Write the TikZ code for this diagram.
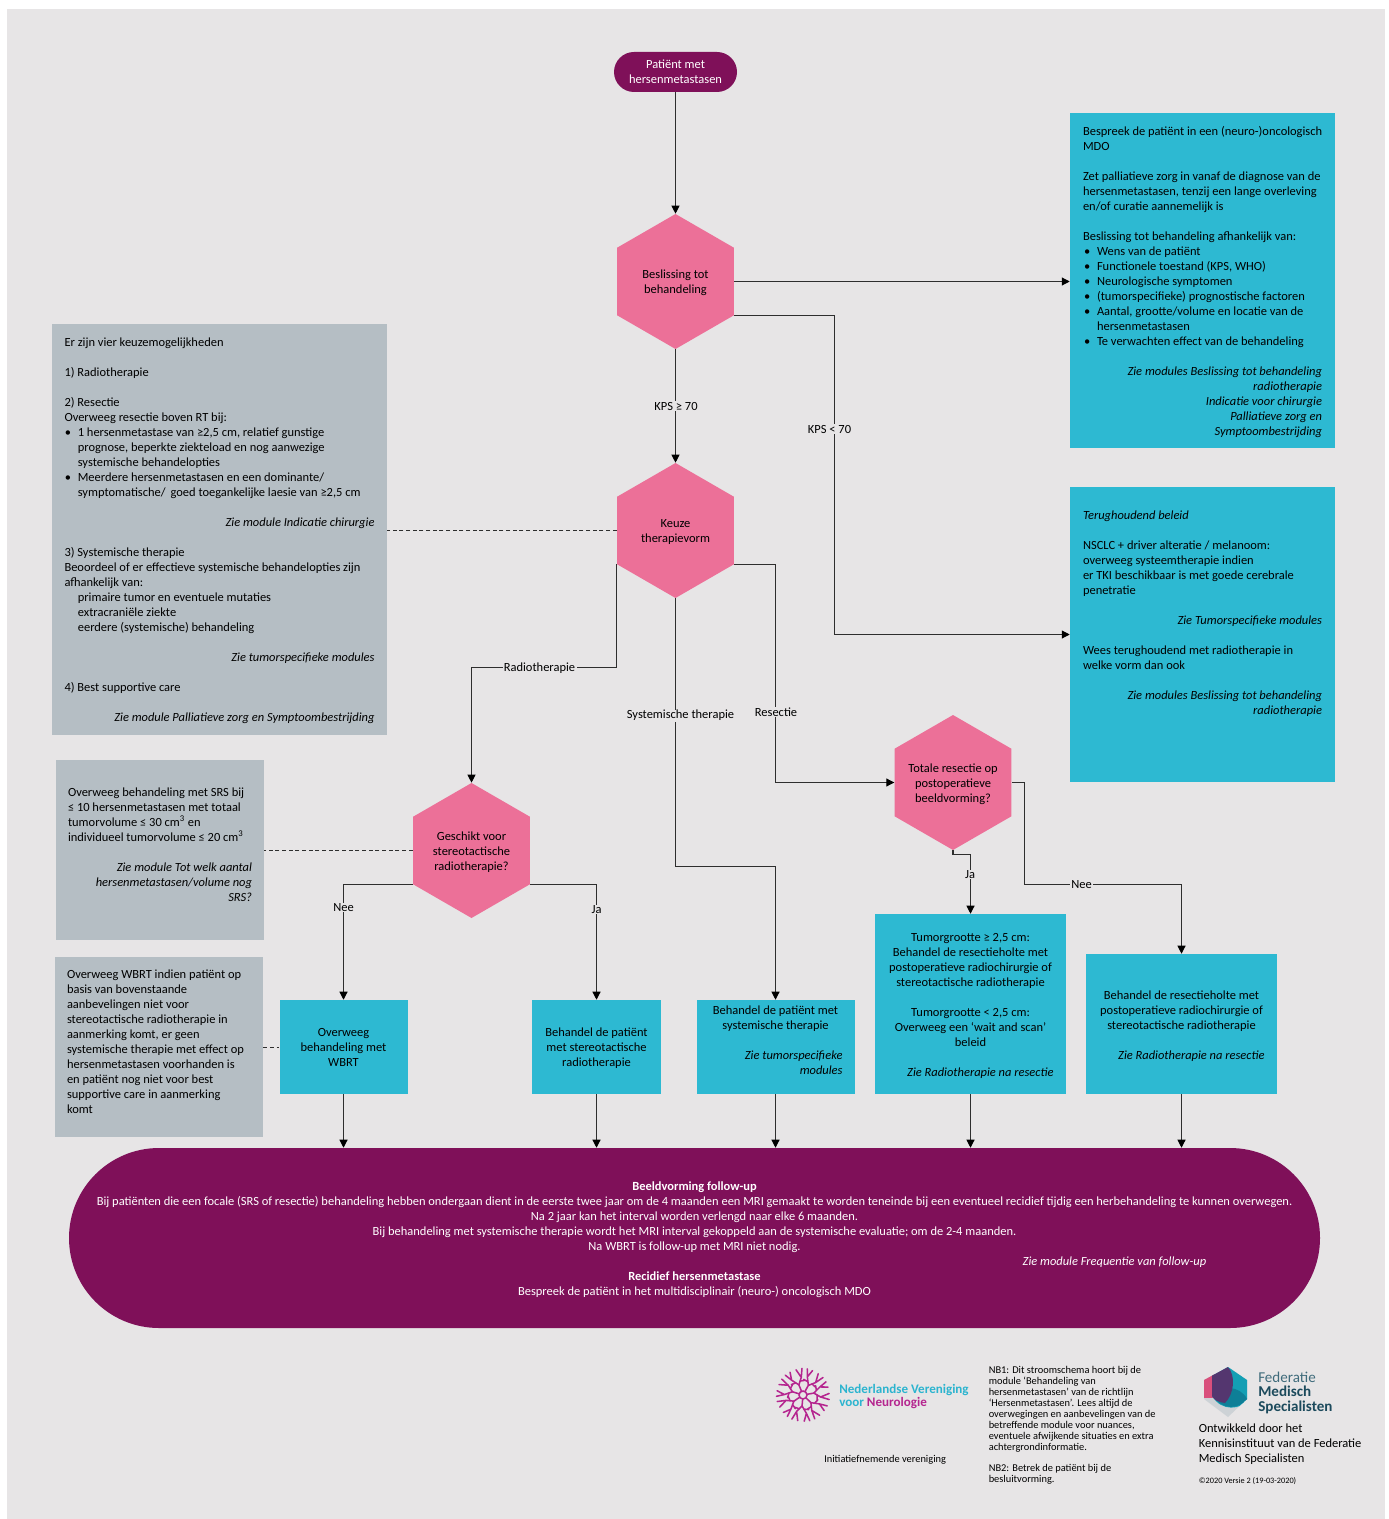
\documentclass[tikz,border=0pt]{standalone}
\usepackage{fontspec}
\setmainfont{Carlito}
\usetikzlibrary{shapes.geometric,shapes.misc,arrows.meta,calc}
\definecolor{bgc}{HTML}{E7E5E6}
\definecolor{pinkc}{HTML}{EC7098}
\definecolor{tealc}{HTML}{2DB9D2}
\definecolor{grayc}{HTML}{B5BEC4}
\definecolor{purc}{HTML}{7F1059}
\definecolor{linec}{HTML}{2E2E2E}
\definecolor{nvnteal}{HTML}{2CB4CF}
\definecolor{nvnpink}{HTML}{B5258F}
\definecolor{fmsdark}{HTML}{1C4A5C}
\definecolor{fmsmid}{HTML}{3F6B7B}
\definecolor{fmsteal}{HTML}{139FB4}
\definecolor{fmsdeep}{HTML}{0E7F97}
\definecolor{fmspur}{HTML}{54366F}
\definecolor{fmsred}{HTML}{D94F7C}
\definecolor{fmsgray}{HTML}{CDD2D6}
\newcommand\pu{0.75pt}
\newcommand\bodyfont{\fontsize{9.35}{11.25}\selectfont}
\newcommand\BL{\\[11.25pt]}
\newcommand\RI[1]{\leavevmode\hbox to\linewidth{\hfill\itshape #1}}
\newcommand\tailgap[1]{\\[\dimexpr #1pt*3/4 - 11.25pt\relax]\mbox{}}
\newcommand\ind[1]{\leavevmode\hspace*{#1pt}}
\newcommand\bul[1]{\leavevmode\hbox to #1pt{\hss\textbullet\hspace*{5pt}}}
\newcommand\dnA{\rule{0pt}{9.5pt}}
\newcommand\dnB{\rule{0pt}{8.5pt}}
\tikzset{
  x=0.75pt,y=-0.75pt,
  panel/.style={rectangle,inner sep=0pt,font=\bodyfont,align=flush left,text=black},
  graybox/.style={panel,fill=grayc},
  bluebox/.style={panel,fill=tealc},
  hexa/.style={regular polygon,regular polygon sides=6,shape border rotate=30,minimum size=135*\pu,inner sep=-12pt,fill=pinkc,font=\bodyfont,align=center,text=black},
  conn/.style={draw=linec,line width=0.8pt,-{Triangle[length=6pt,width=6pt,color=black]}},
  dashconn/.style={draw=linec,line width=0.7pt,dash pattern=on 3pt off 2pt},
  lbl/.style={fill=bgc,inner xsep=1pt,inner ysep=0.5pt,font=\bodyfont,text=black},
  foot/.style={inner sep=0pt,anchor=north west,align=left,text=black},
}
\begin{document}
\begin{tikzpicture}
\useasboundingbox (0,0) rectangle (1388,1519);
\fill[white] (0,0) rectangle (1388,1519);
\fill[bgc] (7,9) rectangle (1385,1519);

% start
\node (start) [rounded rectangle,fill=purc,text=white,minimum width=123*\pu,minimum height=40*\pu,inner sep=0pt,font=\bodyfont,align=center] at (675.5,72) {Patiënt met\\hersenmetastasen};

% hexagons
\node (h1) [hexa] at (675.5,281.5) {\dnB Beslissing tot\\behandeling};
\node (h2) [hexa] at (675.5,530.5) {\dnB Keuze\\therapievorm};
\node (h3) [hexa] at (471.5,850.5) {\dnB Geschikt voor\\stereotactische\\radiotherapie?};
\node (h4) [hexa] at (953,782.5) {\dnA Totale resectie op\\postoperatieve\\beeldvorming?};

% blue right boxes
\node (b1) [bluebox,minimum width=265*\pu,minimum height=335*\pu,text width=239*\pu] at (1202.5,280.5) {%
\dnB\mbox{Bespreek de patiënt in een (neuro-)oncologisch}\\MDO\BL
\mbox{Zet palliatieve zorg in vanaf de diagnose van de}\\\mbox{hersenmetastasen, tenzij een lange overleving}\\en/of curatie aannemelijk is\BL
Beslissing tot behandeling afhankelijk van:\\
\bul{10.5}Wens van de patiënt\\
\bul{10.5}Functionele toestand (KPS, WHO)\\
\bul{10.5}Neurologische symptomen\\
\bul{10.5}(tumorspecifieke) prognostische factoren\\
\bul{10.5}Aantal, grootte/volume en locatie van de\\
\ind{10.5}hersenmetastasen\\
\bul{10.5}Te verwachten effect van de behandeling\BL
\RI{Zie modules Beslissing tot behandeling}\\
\RI{radiotherapie}\\
\RI{Indicatie voor chirurgie}\\
\RI{Palliatieve zorg en}\\
\RI{Symptoombestrijding}};

\node (b2) [bluebox,minimum width=265*\pu,minimum height=295*\pu,text width=239*\pu] at (1202.5,634.5) {%
\dnB\textit{Terughoudend beleid}\BL
NSCLC + driver alteratie / melanoom:\\
overweeg systeemtherapie indien\\
\mbox{er TKI beschikbaar is met goede cerebrale}\\
penetratie\BL
\RI{Zie Tumorspecifieke modules}\BL
\mbox{Wees terughoudend met radiotherapie in}\\
welke vorm dan ook\BL
\RI{Zie modules Beslissing tot behandeling}\\
\RI{radiotherapie}\tailgap{47}};

% gray boxes
\node (g1) [graybox,minimum width=335*\pu,minimum height=411*\pu,text width=310*\pu] at (219.5,529.5) {%
\dnB Er zijn vier keuzemogelijkheden\BL
1) Radiotherapie\BL
2) Resectie\\
Overweeg resectie boven RT bij:\\
\bul{10}1 hersenmetastase van ≥2,5 cm, relatief gunstige\\
\ind{10}prognose, beperkte ziekteload en nog aanwezige\\
\ind{10}systemische behandelopties\\
\bul{10}Meerdere hersenmetastasen en een dominante/\\
\ind{10}symptomatische/\, goed toegankelijke laesie van ≥2,5 cm\BL
\RI{Zie module Indicatie chirurgie}\BL
3) Systemische therapie\\
Beoordeel of er effectieve systemische behandelopties zijn\\
afhankelijk van:\\
\ind{10}primaire tumor en eventuele mutaties\\
\ind{10}extracraniële ziekte\\
\ind{10}eerdere (systemische) behandeling\BL
\RI{Zie tumorspecifieke modules}\BL
4) Best supportive care\BL
\RI{Zie module Palliatieve zorg en Symptoombestrijding}};

\node (g2) [graybox,minimum width=208*\pu,minimum height=180*\pu,text width=184*\pu] at (160,850) {%
\dnB Overweeg behandeling met SRS bij\\
≤ 10 hersenmetastasen met totaal\\
tumorvolume ≤ 30 cm\textsuperscript{3} en\\
individueel tumorvolume ≤ 20 cm\textsuperscript{3}\BL
\RI{Zie module Tot welk aantal}\\
\RI{hersenmetastasen/volume nog}\\
\RI{SRS?}\tailgap{14}};

\node (g3) [graybox,minimum width=208*\pu,minimum height=180*\pu,text width=184*\pu] at (159,1047) {%
\dnB Overweeg WBRT indien patiënt op\\
basis van bovenstaande\\
aanbevelingen niet voor\\
stereotactische radiotherapie in\\
aanmerking komt, er geen\\
systemische therapie met effect op\\
hersenmetastasen voorhanden is\\
en patiënt nog niet voor best\\
supportive care in aanmerking\\
komt\tailgap{14}};

% blue lower boxes
\node (wbrt) [bluebox,align=center,minimum width=128*\pu,minimum height=94*\pu] at (343.5,1047) {Overweeg\\behandeling met\\WBRT};
\node (srt) [bluebox,align=center,minimum width=129*\pu,minimum height=94*\pu] at (596.5,1047) {\dnB Behandel de patiënt\\met stereotactische\\radiotherapie};
\node (sys) [bluebox,align=flush center,minimum width=158*\pu,minimum height=94*\pu,text width=134*\pu] at (775.5,1047) {%
Behandel de patiënt met\\systemische therapie\BL
\RI{Zie tumorspecifieke}\\
\RI{modules}\tailgap{14}};
\node (tum) [bluebox,align=flush center,minimum width=191*\pu,minimum height=180*\pu,text width=166*\pu] at (970.5,1004) {%
\dnA Tumorgrootte ≥ 2,5 cm:\\
Behandel de resectieholte met\\
\mbox{postoperatieve radiochirurgie of}\\
stereotactische radiotherapie\BL
Tumorgrootte < 2,5 cm:\\
Overweeg een ‘wait and scan’\\
beleid\BL
\RI{Zie Radiotherapie na resectie}};
\node (res) [bluebox,align=flush center,minimum width=191*\pu,minimum height=140*\pu,text width=166*\pu] at (1181.5,1024) {%
\dnA Behandel de resectieholte met\\
\mbox{postoperatieve radiochirurgie of}\\
stereotactische radiotherapie\BL
\RI{Zie Radiotherapie na resectie}};

% pill
\node (pill) [rounded rectangle,fill=purc,text=white,minimum width=1251*\pu,minimum height=180*\pu,inner sep=0pt,font=\bodyfont,align=center] at (694.5,1238) {%
\rule{0pt}{9.3pt}\textbf{Beeldvorming follow-up}\\
Bij patiënten die een focale (SRS of resectie) behandeling hebben ondergaan dient in de eerste twee jaar om de 4 maanden een MRI gemaakt te worden teneinde bij een eventueel recidief tijdig een herbehandeling te kunnen overwegen.\\
Na 2 jaar kan het interval worden verlengd naar elke 6 maanden.\\
Bij behandeling met systemische therapie wordt het MRI interval gekoppeld aan de systemische evaluatie; om de 2-4 maanden.\\
Na WBRT is follow-up met MRI niet nodig.\\
\hspace*{630pt}\textit{Zie module Frequentie van follow-up}\\
\textbf{Recidief hersenmetastase}\\
Bespreek de patiënt in het multidisciplinair (neuro-) oncologisch MDO};

% connectors
\draw[conn] (start.south) -- (h1.corner 1);
\draw[conn] (h1.east) -- (b1.west |- h1.east);
\draw[conn] (h1.corner 5) -- ($(h1.corner 5)+(100,0)$) |- (b2.west);
\draw[conn] (h1.corner 4) -- (h2.corner 1);
\draw[dashconn] (h2.west) -- (g1.east |- h2.west);
\draw[conn] (h2.corner 5) -- ($(h2.corner 5)+(41,0)$) |- (h4.west);
\draw[conn] (h2.corner 3) -- ($(h2.corner 3)+(0,103)$) -| (h3.corner 1);
\draw[conn] (h2.corner 4) -- ($(h2.corner 4)+(0,268)$) -| (sys.north);
\draw[dashconn] (h3.west) -- (g2.east |- h3.west);
\draw[conn] (h3.corner 3) -| (wbrt.north);
\draw[conn] (h3.corner 5) -| (srt.north);
\draw[dashconn] (g3.east |- wbrt.west) -- (wbrt.west);
\draw[conn] (h4.corner 4) -- ($(h4.corner 4)+(0,4)$) -| (tum.north);
\draw[conn] (h4.east) -- ($(h4.east)+(13,0)$) |- ($(h4.east)+(80,102)$) -| (res.north);
\foreach \b in {wbrt,srt,sys,tum,res}
  \draw[conn] (\b.south) -- (\b.south |- pill.north);

% connector labels
\node (l1) [lbl] at (676,406) {KPS ≥ 70};
\node (l2) [lbl] at (829.5,429) {KPS < 70};
\node (l3) [lbl] at (539.5,668.5) {Radiotherapie};
\node (l4) [lbl] at (680.5,715.5) {Systemische therapie};
\node (l5) [lbl] at (776,712) {Resectie};
\node (l6) [lbl] at (343.5,907.5) {Nee};
\node (l7) [lbl] at (596.5,909.5) {Ja};
\node (l8) [lbl] at (970,874.5) {Ja};
\node (l9) [lbl] at (1081.5,885) {Nee};

% footer
\node (ini) [foot,font=\fontsize{7.8}{8.35}\selectfont] at (824,1455) {Initiatiefnemende vereniging};
\node (nb) [foot,font=\fontsize{7.8}{8.35}\selectfont] at (988.5,1365.5) {NB1: Dit stroomschema hoort bij de\\
module ‘Behandeling van\\
hersenmetastasen’ van de richtlijn\\
‘Hersenmetastasen’. Lees altijd de\\
overwegingen en aanbevelingen van de\\
betreffende module voor nuances,\\
eventuele afwijkende situaties en extra\\
achtergrondinformatie.\\[6.7pt]
NB2: Betrek de patiënt bij de\\
besluitvorming.};
\node (ont) [foot,font=\bodyfont] at (1198.5,1423.5) {Ontwikkeld door het\\Kennisinstituut van de Federatie\\Medisch Specialisten};
\node (copy) [foot,font=\fontsize{6.2}{7}\selectfont] at (1198.5,1477) {©2020 Versie 2 (19-03-2020)};
\node (nvn) [foot,font=\fontsize{9.8}{9.8}\selectfont\bfseries,text=nvnteal] at (839,1384) {Nederlandse Vereniging\\voor \textcolor{nvnpink}{Neurologie}};
\node (fms) [foot,font=\fontsize{11.3}{10.6}\selectfont,text=fmsmid] at (1258,1372) {Federatie\\\textcolor{fmsdark}{\textbf{Medisch}}\\\textcolor{fmsdark}{\textbf{Specialisten}}};

% NVN logo
\begin{scope}[shift={(803,1395)},draw=nvnpink,line width=1.15pt,line cap=round]
  \draw (0,0) circle (4);
  \foreach \a in {10,61,...,360}{
    \begin{scope}[rotate=\a]
      \draw (4,0) -- (11,0) -- (18,-5) -- (25,-9) (18,-5) -- (26,-3.5);
      \draw (11,0) -- (17,5) -- (25,9) (17,5) -- (26,3);
      \draw (14,-2.5) -- (14,-7) (14,2.5) -- (13,7);
    \end{scope}}
\end{scope}

% FMS logo
\begin{scope}
  \clip (1228,1367) -- (1247,1380) -- (1247,1399) -- (1228,1417) -- (1204,1399) -- (1204,1380) -- cycle;
  \fill[fmsgray] (1200,1360) rectangle (1250,1420);
  \fill[fmsred] (1200,1370) rectangle (1214,1398);
  \fill[fmsteal] (1228,1367) -- (1250,1378) -- (1250,1399) .. controls (1240,1410) and (1222,1412) .. (1212,1396) -- (1212,1376) -- cycle;
  \fill[fmsdeep] (1213,1396) .. controls (1220,1385) and (1240,1385) .. (1247,1399) .. controls (1238,1410) and (1222,1410) .. (1213,1396) -- cycle;
  \fill[fmspur] (1212,1374) .. controls (1218,1368) and (1224,1366) .. (1228,1367) .. controls (1236,1376) and (1234,1394) .. (1225,1403) .. controls (1218,1402) and (1214,1400) .. (1212,1396) -- cycle;
\end{scope}
\end{tikzpicture}
\end{document}
